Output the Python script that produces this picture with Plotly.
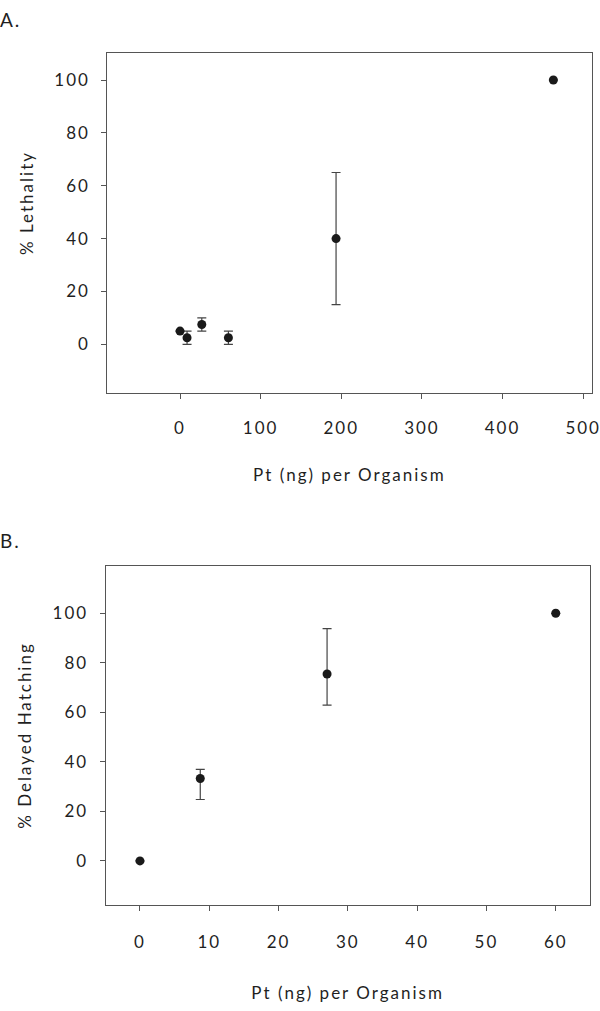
import plotly.graph_objects as go

# Panel A data
a_x = [0, 8.7, 27, 60, 193.5, 463]
a_y = [5, 2.5, 7.5, 2.5, 40, 100]
a_err = [0, 2.5, 2.5, 2.5, 25, 0]

# Panel B data
b_x = [0, 8.7, 27, 60]
b_y = [0, 33.3, 75.5, 100]
b_err_plus = [0, 3.7, 18.3, 0]
b_err_minus = [0, 8.5, 12.6, 0]

a_xticks = [0, 100, 200, 300, 400, 500]
a_yticks = [0, 20, 40, 60, 80, 100]
b_xticks = [0, 10, 20, 30, 40, 50, 60]
b_yticks = [0, 20, 40, 60, 80, 100]

FONT = "Lato"
TXT = "#1f1f1f"
LINE = "#555555"
W, H = 600, 1011

fig = go.Figure()
fig.add_trace(go.Scatter(
    x=a_x, y=a_y, mode="markers", xaxis="x", yaxis="y",
    marker=dict(color="#1a1a1a", size=9),
    error_y=dict(type="data", array=a_err, visible=True, color="#444444", thickness=1.2, width=4.5),
    showlegend=False,
))
fig.add_trace(go.Scatter(
    x=b_x, y=b_y, mode="markers", xaxis="x2", yaxis="y2",
    marker=dict(color="#1a1a1a", size=9),
    error_y=dict(type="data", symmetric=False, array=b_err_plus, arrayminus=b_err_minus,
                 visible=True, color="#444444", thickness=1.2, width=4.5),
    showlegend=False,
))

def px_x(p):
    return p / W

def px_y(p):
    return 1 - p / H

axis_common = dict(
    showline=True, linecolor=LINE, linewidth=1, mirror=True,
    ticks="outside", ticklen=5, tickcolor=LINE, tickwidth=1,
    showgrid=False, zeroline=False,
    tickfont=dict(family=FONT, size=17, color=TXT),
    title_font=dict(family=FONT, size=17, color=TXT),
    automargin=False,
)

fig.update_layout(
    width=W, height=H,
    margin=dict(l=0, r=0, t=0, b=0),
    paper_bgcolor="white", plot_bgcolor="white",
    xaxis=dict(domain=[px_x(107.3), px_x(591.5)], anchor="y", range=[-90.2, 510.3],
               tickvals=a_xticks, ticklabelstandoff=15,
               title=dict(text="Pt (ng) per Organism", standoff=32), **axis_common),
    yaxis=dict(domain=[px_y(392.7), px_y(53.3)], anchor="x", range=[-18.3, 110.1],
               tickvals=a_yticks, ticklabelstandoff=8, **axis_common),
    xaxis2=dict(domain=[px_x(105.6), px_x(589.7)], anchor="y2", range=[-4.96, 64.9],
                tickvals=b_xticks, ticklabelstandoff=17,
                title=dict(text="Pt (ng) per Organism", standoff=35), **axis_common),
    yaxis2=dict(domain=[px_y(905), px_y(566)], anchor="x2", range=[-17.8, 119.1],
                tickvals=b_yticks, ticklabelstandoff=8,
                title=dict(text="% Delayed Hatching", standoff=22), **axis_common),
    annotations=[
        dict(text="% Lethality", x=px_x(27), y=px_y(203), xref="paper", yref="paper",
             xanchor="center", yanchor="middle", textangle=-90,
             showarrow=False, font=dict(family=FONT, size=17, color=TXT)),
        dict(text="A.", x=0, y=px_y(20), xref="paper", yref="paper", xanchor="left", yanchor="middle",
             showarrow=False, font=dict(family=FONT, size=19, color=TXT)),
        dict(text="B.", x=0, y=px_y(540), xref="paper", yref="paper", xanchor="left", yanchor="middle",
             showarrow=False, font=dict(family=FONT, size=19, color=TXT)),
    ],
)

post = (
    "document.body.style.margin='0';"
    "document.body.style.overflow='hidden';"
    "var gd=document.getElementById('{plot_id}');"
    "if(gd){gd.querySelectorAll('text').forEach(function(t){t.style.letterSpacing='2px';});}"
)

fig.write_html("out.html", post_script=post, config={"displayModeBar": False})
